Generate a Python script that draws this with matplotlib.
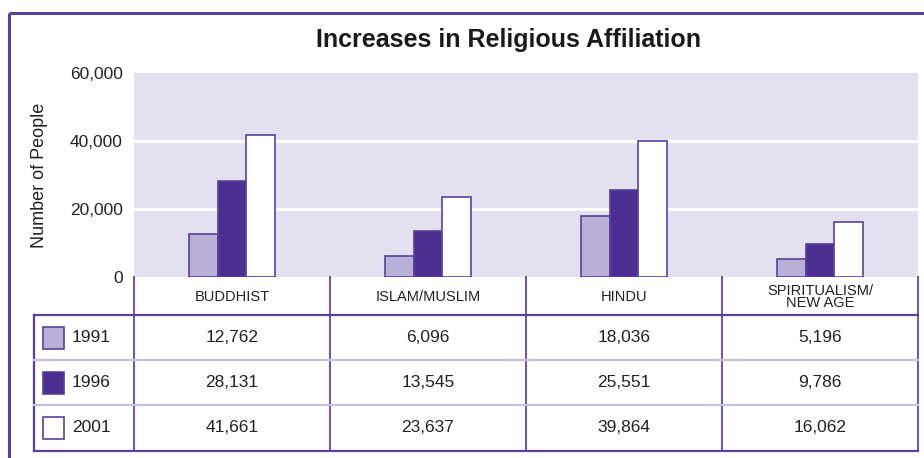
import matplotlib
matplotlib.use('Agg')
from matplotlib import pyplot as plt
from matplotlib.patches import Rectangle
import numpy as np

plt.rcParams['font.family'] = ['Liberation Sans', 'DejaVu Sans']

categories = ['BUDDHIST', 'ISLAM/MUSLIM', 'HINDU', 'SPIRITUALISM/\nNEW AGE']
years = ['1991', '1996', '2001']
v1991 = [12762, 6096, 18036, 5196]
v1996 = [28131, 13545, 25551, 9786]
v2001 = [41661, 23637, 39864, 16062]
yticks = [0, 20000, 40000, 60000]

series = [v1991, v1996, v2001]
fills = ['#b8b0d7', '#4b2e8f', '#ffffff']
edge = '#5a3f9f'
light_line = '#c6bfdf'

W, H = 924, 458
fig = plt.figure(figsize=(W / 100, H / 100), dpi=100)

# plot area in pixels (left, top, right, bottom)
pl, pt, pr, pb = 134, 73, 918, 277
ax = fig.add_axes([pl / W, 1 - pb / H, (pr - pl) / W, (pb - pt) / H])
ax.set_facecolor('#e3e1f0')
x = np.arange(len(categories))
bw = 0.146
for i, (vals, fc) in enumerate(zip(series, fills)):
    ax.bar(x + (i - 1) * bw, vals, bw, color=fc, edgecolor=edge, linewidth=1.2, zorder=3)
ax.set_xlim(-0.5, len(categories) - 0.5)
ax.set_ylim(0, 60000)
ax.set_yticks(yticks)
ax.set_yticklabels([f'{t:,}' for t in yticks], fontsize=12.5, color='#222222')
ax.tick_params(axis='y', length=0, pad=8)
ax.set_xticks([])
for t in yticks[1:-1]:
    ax.axhline(t, color='white', lw=2.2, zorder=1)
for s in ax.spines.values():
    s.set_visible(False)
ax.set_ylabel('Number of People', fontsize=13, color='#222222', labelpad=16)

# overlay for frame, title and table
ov = fig.add_axes([0, 0, 1, 1], facecolor='none')
ov.set_xlim(0, W)
ov.set_ylim(H, 0)
ov.axis('off')

# outer frame
ov.plot([9, W], [12.5, 12.5], color=edge, lw=2.2, solid_capstyle='butt')
ov.plot([9, 9], [12.5, H], color=edge, lw=2.2, solid_capstyle='butt')

ov.text(508, 40, 'Increases in Religious Affiliation', ha='center', va='center',
        fontsize=18, fontweight='bold', color='#1a1a1a')

# table geometry
cols = np.linspace(pl, pr, len(categories) + 1)
rows = [315, 360, 405, 451]
tl = 34

for c in cols:
    ov.plot([c, c], [pb, rows[-1]], color='#6b52b3', lw=1.4)
ov.plot([tl, tl], [rows[0], rows[-1]], color=edge, lw=1.6)
ov.plot([tl, pr], [rows[0], rows[0]], color=edge, lw=1.6)
ov.plot([tl, pr], [rows[-1], rows[-1]], color=edge, lw=1.6)
for r in rows[1:-1]:
    ov.plot([tl, pr], [r, r], color=light_line, lw=1.6)

centers = (cols[:-1] + cols[1:]) / 2
for cx, name in zip(centers, categories):
    ov.text(cx, 297, name, ha='center', va='center', fontsize=10.5, color='#222222',
            linespacing=0.9)

for j, (yr, vals, fc) in enumerate(zip(years, series, fills)):
    cy = (rows[j] + rows[j + 1]) / 2
    ov.add_patch(Rectangle((42.5, cy - 11), 21.5, 22, facecolor=fc, edgecolor=edge, lw=1.2))
    ov.text(72, cy, yr, ha='left', va='center', fontsize=12.5, color='#222222')
    for cx, v in zip(centers, vals):
        ov.text(cx, cy, f'{v:,}', ha='center', va='center', fontsize=12.5, color='#222222')

fig.savefig('out.png', dpi=100)
